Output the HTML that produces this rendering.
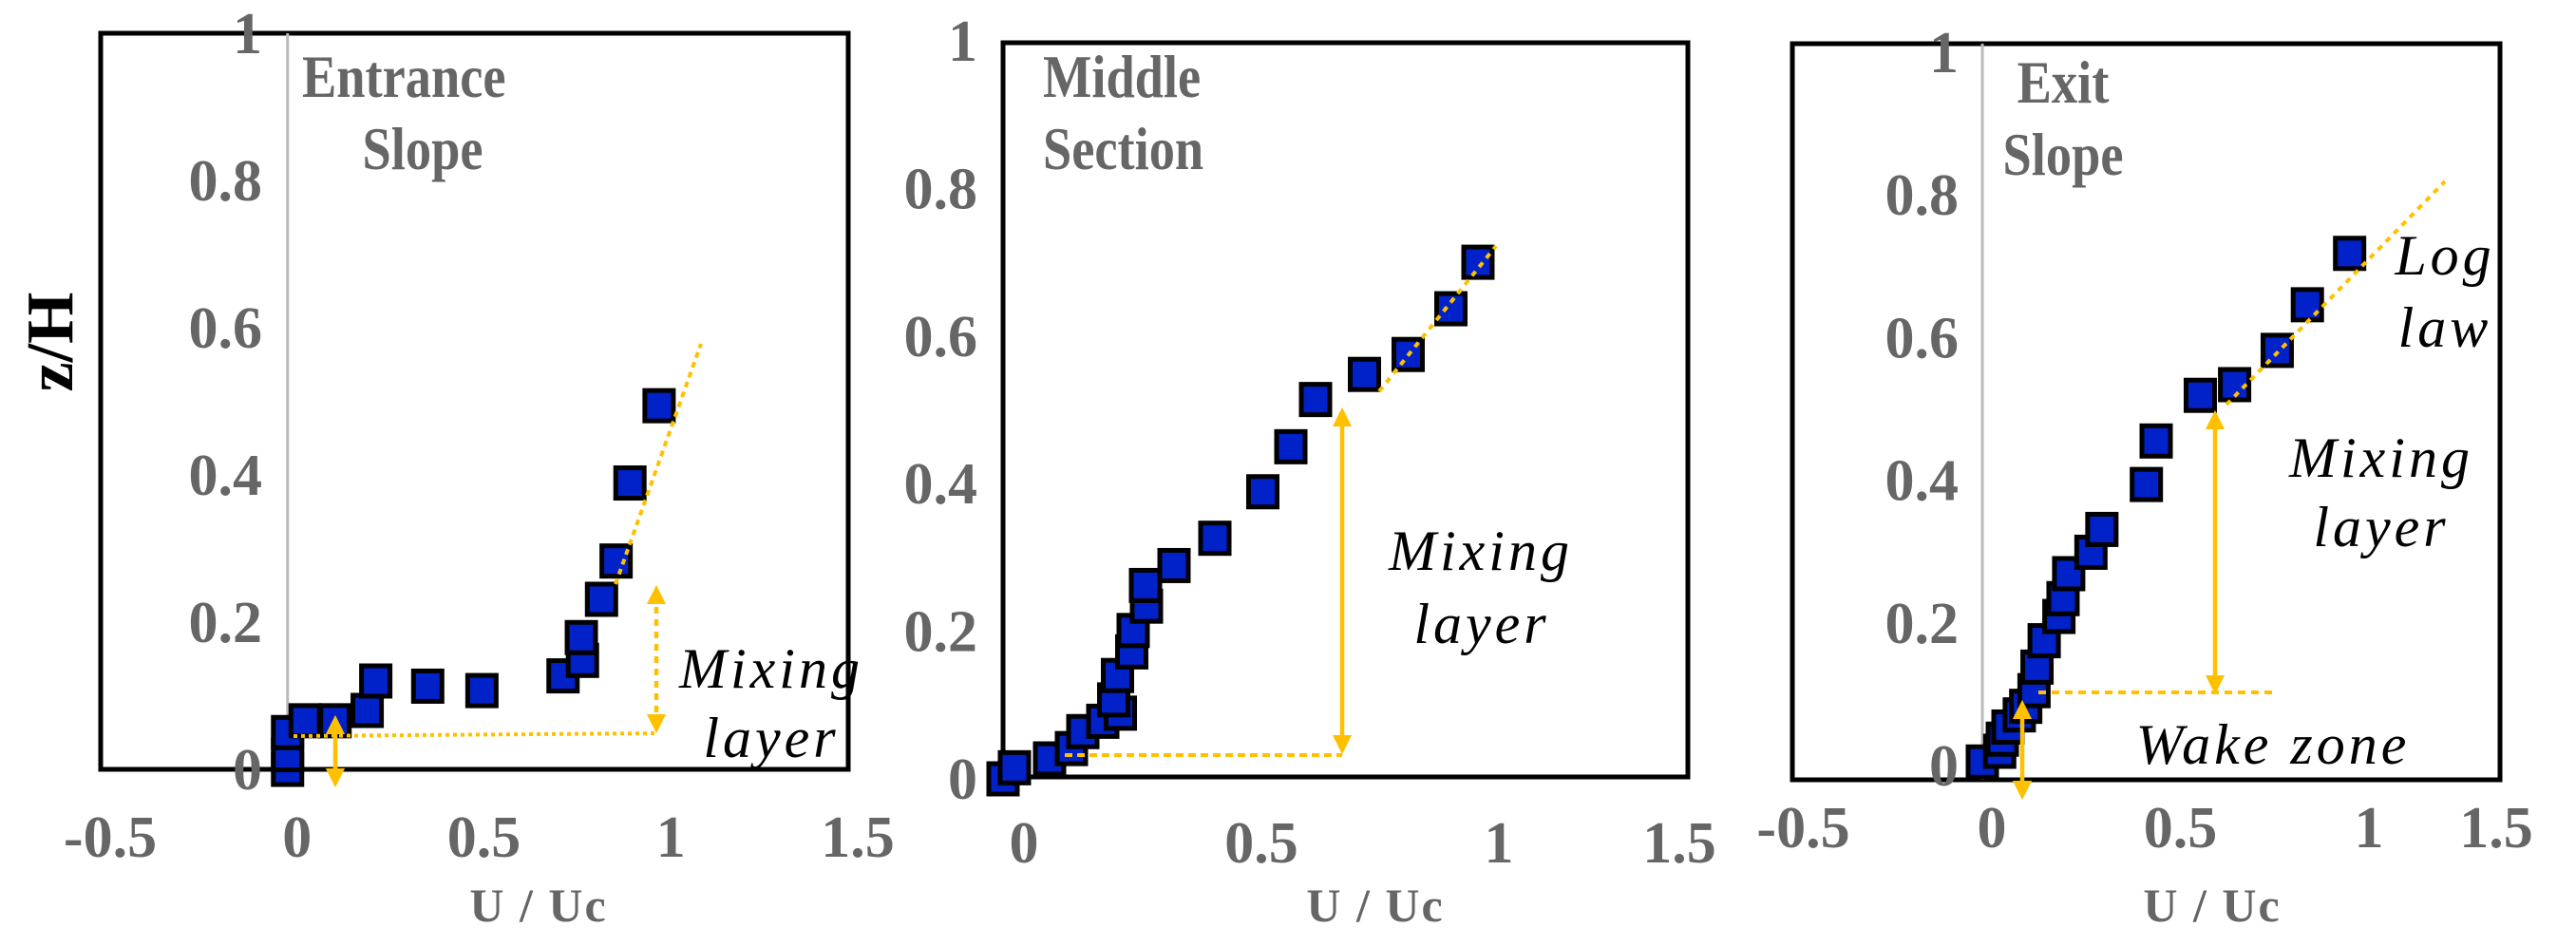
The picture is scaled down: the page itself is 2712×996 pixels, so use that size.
<!DOCTYPE html>
<html><head><meta charset="utf-8">
<style>
html,body{margin:0;padding:0;background:#fff;}
svg{display:block;}
.tick{font-family:"Liberation Serif",serif;font-weight:bold;fill:#666;font-size:62px;}
.title{font-family:"Liberation Serif",serif;font-weight:bold;fill:#666;font-size:64px;}
.xt{font-family:"Liberation Serif",serif;font-weight:bold;fill:#666;font-size:50px;letter-spacing:2px;}
.ann{font-family:"Liberation Serif",serif;font-style:italic;fill:#000;font-size:60px;letter-spacing:4px;}
</style></head>
<body>
<svg id="chart" width="2712" height="996" viewBox="0 0 2712 996" xmlns="http://www.w3.org/2000/svg">
<defs>
<marker id="ah" viewBox="0 0 10 10" refX="5" refY="5" markerWidth="4.5" markerHeight="4.5" orient="auto-start-reverse"><path d="M0,0 L10,5 L0,10 z" fill="#ffc000"/></marker>
</defs>
<text transform="translate(76,360) rotate(-90)" text-anchor="middle" font-family="Liberation Serif, serif" font-weight="bold" font-size="70" fill="#000">z/H</text>
</svg>
<script>
// Entrance slope
const entU = [0,0,0,0.047,0.127,0.213,0.236,0.375,0.52,0.737,0.789,0.786,0.84,0.879,0.916,0.994];
const entZ = [0,0.02,0.05,0.066,0.066,0.08,0.12,0.113,0.107,0.127,0.148,0.179,0.231,0.283,0.389,0.494];
// Middle section
const midU = [-0.024,0,0.074,0.12,0.144,0.186,0.223,0.209,0.217,0.247,0.25,0.278,0.276,0.336,0.422,0.523,0.582,0.634,0.737,0.829,0.919,0.976];
const midZ = [0,0.015,0.027,0.041,0.064,0.078,0.089,0.107,0.14,0.172,0.201,0.234,0.262,0.289,0.326,0.389,0.45,0.514,0.548,0.575,0.637,0.7];
// Exit slope
const exiU = [0,0.046,0.053,0.068,0.098,0.115,0.137,0.145,0.164,0.203,0.214,0.229,0.288,0.317,0.435,0.461,0.578,0.669,0.782,0.862,0.974];
const exiZ = [0.005,0.02,0.037,0.054,0.071,0.083,0.105,0.138,0.175,0.209,0.234,0.269,0.299,0.331,0.394,0.455,0.519,0.534,0.582,0.646,0.718];
const xTicks = [-0.5,0,0.5,1,1.5];
const xTickLabels = ["-0.5","0","0.5","1","1.5"];
const yTicks = [0,0.2,0.4,0.6,0.8,1];
const yTickLabels = ["0","0.2","0.4","0.6","0.8","1"];

const NS="http://www.w3.org/2000/svg";
const svg=document.getElementById('chart');
function mk(tag,attrs,parent){const e=document.createElementNS(NS,tag);for(const k in attrs)e.setAttribute(k,attrs[k]);(parent||svg).appendChild(e);return e;}

const panels=[
 {name:'entrance',U:entU,Z:entZ,frame:[106,35,893,810],x0:302.75,xs:393.5,y0:810,ys:775,gray:true,
  xLabY:902,xTitle:[567,970],yLabX:276,xTickFrom:-0.5,maxLab:2000,
  titles:[["Entrance",318,102,"start"],["Slope",445,178,"middle"]],
  ann:[["Mixing",812,724],["layer",812,797]]},
 {name:'middle',U:midU,Z:midZ,frame:[1056,45,1777,818],x0:1068,xs:500,y0:820,ys:777,gray:false,
  xLabY:908,xTitle:[1448,970],yLabX:1029,xTickFrom:0,maxLab:1768,
  titles:[["Middle",1098,102,"start"],["Section",1098,178,"start"]],
  ann:[["Mixing",1559,600],["layer",1560,677]]},
 {name:'exit',U:exiU,Z:exiZ,frame:[1887,46,2632,821],x0:2087,xs:397,y0:806,ys:751,gray:true,
  xLabY:892,xTitle:[2329,970],yLabX:2062,xTickFrom:-0.5,maxLab:2628,
  titles:[["Exit",2172,108,"middle"],["Slope",2172,184,"middle"]],
  ann:[["Log",2574,289],["law",2574,365],["Mixing",2507,502],["layer",2507,575],["Wake zone",2393,804]]}
];

panels.forEach(p=>{
  const g=mk('g',{});
  
  
  const X=u=>p.x0+p.xs*u, Y=z=>p.y0-p.ys*z;
  const [l,t,r,b]=p.frame;
  const fr=mk('rect',{x:l,y:t,width:r-l,height:b-t,fill:'#fff',stroke:'#000','stroke-width':5},g);
  
  
  if(p.gray){
    const gl=mk('line',{x1:X(0),x2:X(0),y1:t,y2:b,stroke:'#bbb','stroke-width':3},g);
    
    
  }
  yTicks.forEach((v,i)=>{
    const tx=mk('text',{x:p.yLabX,y:Y(v)+21,'text-anchor':'end',class:'tick'},g);
    tx.textContent=yTickLabels[i];
    
    
  });
  xTicks.forEach((v,i)=>{
    if(v<p.xTickFrom) return;
    const tx=mk('text',{x:Math.min(X(v)+10,p.maxLab),y:p.xLabY,'text-anchor':'middle',class:'tick'},g);
    tx.textContent=xTickLabels[i];
    
    
  });
  const xt=mk('text',{x:p.xTitle[0],y:p.xTitle[1],'text-anchor':'middle',class:'xt'},g);
  xt.textContent='U / Uc';
  
  
  p.titles.forEach(tt=>{
    const e=mk('text',{transform:`translate(${tt[1]},${tt[2]}) scale(0.85,1)`,'text-anchor':tt[3],class:'title'},g);
    e.textContent=tt[0];
    
    
  });
  p.ann.forEach(a=>{
    const e=mk('text',{x:a[1],y:a[2],'text-anchor':'middle',class:'ann'},g);
    e.textContent=a[0];
    
    
  });
  p.U.forEach((u,i)=>{
    const s=mk('rect',{x:X(u)-15,y:Y(p.Z[i])-16,width:30,height:32,fill:'#0022c8',stroke:'#000','stroke-width':5},g);
    
    
  });
  p.g=g;p.X=X;p.Y=Y;
});

function oline(g,x1,y1,x2,y2,name,dash,arrow){
  const a={x1,y1,x2,y2,stroke:'#ffc000','stroke-width':arrow?4.5:4};
  if(dash)a['stroke-dasharray']=dash;
  if(arrow){a['marker-start']='url(#ah)';a['marker-end']='url(#ah)';}
  const e=mk('line',a,g);
  
  
}
const P=panels;
oline(P[0].g,648,615,738,362,'entrance-log-law-line','6 5');
oline(P[0].g,309,775,691,772,'entrance-guide-line','4 4');
oline(P[0].g,691,626,691,762,'entrance-mixing-arrow','7 6',true);
oline(P[0].g,353,763,353,819,'entrance-wake-arrow',null,true);
oline(P[1].g,1452,412,1575,259,'middle-log-law-line','6 6');
oline(P[1].g,1121,795,1413,795,'middle-guide-line','8 5');
oline(P[1].g,1413,439,1413,784,'middle-mixing-arrow',null,true);
oline(P[2].g,2344,426,2574,191,'exit-log-law-line','6 6');
oline(P[2].g,2146,729,2396,729,'exit-guide-line','8 6');
oline(P[2].g,2332,442,2332,721,'exit-mixing-arrow',null,true);
oline(P[2].g,2129,747,2129,832,'exit-wake-arrow',null,true);
</script>
</body></html>
